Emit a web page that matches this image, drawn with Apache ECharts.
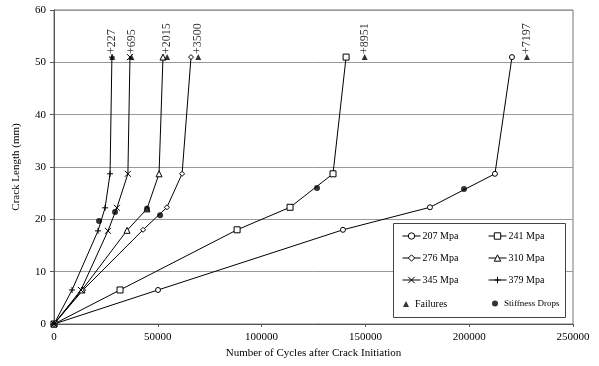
<!DOCTYPE html>
<html>
<head>
<meta charset="utf-8">
<script src="https://cdn.jsdelivr.net/npm/echarts@6/dist/echarts.min.js"></script>
<style>html,body{margin:0;padding:0;background:#fff}#c{width:599px;height:366px}</style>
</head>
<body>
<div id="c"></div>
<script>
// Data (cycles after crack initiation, crack length mm)
const cycles207 = [0, 50100, 139200, 181100, 212400, 220600];
const crack207  = [0, 6.5, 18, 22.3, 28.7, 51];
const cycles241 = [0, 31800, 88200, 113700, 134400, 140700];
const crack241  = [0, 6.5, 18, 22.3, 28.7, 51];
const cycles276 = [0, 14000, 42900, 54400, 61700, 66000];
const crack276  = [0, 6.5, 18, 22.3, 28.7, 51];
const cycles310 = [0, 13500, 35200, 44800, 50600, 52500];
const crack310  = [0, 6.5, 17.9, 22, 28.7, 51];
const cycles345 = [0, 13000, 26000, 30300, 35600, 36600];
const crack345  = [0, 6.5, 17.8, 22.2, 28.7, 51];
const cycles379 = [0, 8700, 21200, 24600, 27000, 27900];
const crack379  = [0, 6.5, 17.8, 22.2, 28.7, 51];

const failCycles = [28100, 37300, 54500, 69500, 149650, 227800];
const failCrack  = [51, 51, 51, 51, 51, 51];
const failLabels = ['+227', '+695', '+2015', '+3500', '+8951', '+7197'];

const stiffCycles = [21700, 29400, 44800, 51100, 126700, 197500];
const stiffCrack  = [19.7, 21.4, 22, 20.8, 26, 25.8];

const seriesNames = ['207 Mpa', '241 Mpa', '276 Mpa', '310 Mpa', '345 Mpa', '379 Mpa'];
const xTickMax = 250000, xTickStep = 50000, yTickMax = 60, yTickStep = 10;

const FONT = 'Liberation Serif';
const zip = (a, b) => a.map((v, i) => [v, b[i]]);

const crossPath = 'path://M0,0L10,10M10,0L0,10';
const plusPath = 'path://M5,0L5,10M0,5L10,5';

function lineSeries(name, xs, ys, symbol, size) {
  const isPath = symbol.indexOf('path') === 0;
  return {
    name: name, type: 'line', data: zip(xs, ys),
    symbol: symbol, symbolSize: size, showSymbol: true,
    lineStyle: { color: '#000', width: 1 },
    itemStyle: isPath ? { color: '#000', borderColor: '#000', borderWidth: 1 }
                      : { color: '#fff', borderColor: '#000', borderWidth: 1 },
    emphasis: { disabled: true }, animation: false, z: 2
  };
}

const legendText = { fontFamily: FONT, fontSize: 10, color: '#000', padding: [0, 0, 0, -3] };

const chart = echarts.init(document.getElementById('c'), null, { renderer: 'canvas' });
chart.setOption({
  backgroundColor: '#fff',
  animation: false,
  textStyle: { fontFamily: FONT, color: '#000' },
  grid: { left: 54, right: 26, top: 10, bottom: 42, show: true, borderColor: '#777', borderWidth: 1 },
  xAxis: {
    type: 'value', min: 0, max: xTickMax, interval: xTickStep,
    name: 'Number of Cycles after Crack Initiation', nameLocation: 'middle', nameGap: 24,
    nameTextStyle: { fontFamily: FONT, fontSize: 11, color: '#000' },
    axisLine: { lineStyle: { color: '#555', width: 1 } },
    axisTick: { show: true, length: 3, lineStyle: { color: '#555' } },
    axisLabel: { fontFamily: FONT, fontSize: 11, color: '#000', margin: 8, formatter: v => String(v) },
    splitLine: { show: false }
  },
  yAxis: {
    type: 'value', min: 0, max: yTickMax, interval: yTickStep,
    name: 'Crack Length (mm)', nameLocation: 'middle', nameGap: 32, nameRotate: 90,
    nameTextStyle: { fontFamily: FONT, fontSize: 11, color: '#000' },
    axisLine: { show: true, lineStyle: { color: '#555', width: 1 } },
    axisTick: { show: true, length: 4, lineStyle: { color: '#555' } },
    axisLabel: { fontFamily: FONT, fontSize: 11, color: '#000', margin: 8 },
    splitLine: { show: true, lineStyle: { color: '#999', width: 1 } }
  },
  graphic: [{
    type: 'rect', left: 393, top: 223, z: 3,
    shape: { width: 172, height: 94 },
    style: { fill: '#fff', stroke: '#444', lineWidth: 1 }
  }],
  legend: [{
    orient: 'vertical', left: 397, top: 226, itemGap: 12, itemWidth: 18, itemHeight: 8,
    itemStyle: { borderWidth: 1 }, lineStyle: { width: 1 },
    data: ['207 Mpa', '276 Mpa', '345 Mpa'], textStyle: legendText, z: 5
  }, {
    orient: 'vertical', left: 483, top: 226, itemGap: 12, itemWidth: 18, itemHeight: 8,
    itemStyle: { borderWidth: 1 }, lineStyle: { width: 1 },
    data: ['241 Mpa', '310 Mpa', '379 Mpa'], textStyle: legendText, z: 5
  }, {
    left: 398, top: 294, itemWidth: 6, itemHeight: 6,
    data: ['Failures'], textStyle: { fontFamily: FONT, fontSize: 10, color: '#000', padding: [0, 0, 0, 1] }, z: 5
  }, {
    left: 487, top: 294, itemWidth: 6, itemHeight: 6,
    data: ['Stiffness Drops'], textStyle: { fontFamily: FONT, fontSize: 9, color: '#000', padding: [0, 0, 0, 1] }, z: 5
  }],
  series: [
    lineSeries(seriesNames[0], cycles207, crack207, 'circle', 5),
    lineSeries(seriesNames[1], cycles241, crack241, 'rect', 6),
    lineSeries(seriesNames[2], cycles276, crack276, 'diamond', 5),
    lineSeries(seriesNames[3], cycles310, crack310, 'triangle', 6),
    lineSeries(seriesNames[4], cycles345, crack345, crossPath, 6),
    lineSeries(seriesNames[5], cycles379, crack379, plusPath, 6),
    {
      name: 'Failures', type: 'scatter', data: zip(failCycles, failCrack),
      symbol: 'triangle', symbolSize: 6, itemStyle: { color: '#000' },
      label: {
        show: true, position: 'top', rotate: 90, align: 'left', verticalAlign: 'middle', distance: 0,
        fontFamily: FONT, fontSize: 12, color: '#000',
        formatter: p => failLabels[p.dataIndex]
      },
      emphasis: { disabled: true }, z: 3
    },
    {
      name: 'Stiffness Drops', type: 'scatter', data: zip(stiffCycles, stiffCrack),
      symbol: 'circle', symbolSize: 6, itemStyle: { color: '#000' },
      emphasis: { disabled: true }, z: 3
    }
  ]
});
</script>
</body>
</html>
